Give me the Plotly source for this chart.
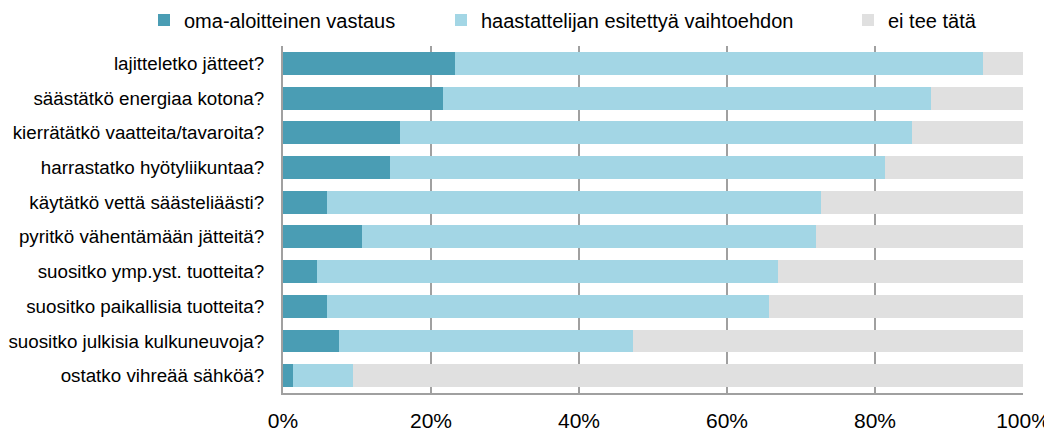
import plotly.graph_objects as go

categories = [
    "lajitteletko jätteet?",
    "säästätkö energiaa kotona?",
    "kierrätätkö vaatteita/tavaroita?",
    "harrastatko hyötyliikuntaa?",
    "käytätkö vettä säästeliäästi?",
    "pyritkö vähentämään jätteitä?",
    "suositko ymp.yst. tuotteita?",
    "suositko paikallisia tuotteita?",
    "suositko julkisia kulkuneuvoja?",
    "ostatko vihreää sähköä?",
]
oma = [23.3, 21.6, 15.8, 14.5, 5.9, 10.7, 4.6, 5.9, 7.5, 1.4]
haastattelija = [71.3, 65.9, 69.2, 66.9, 66.8, 61.3, 62.3, 59.8, 39.8, 8.0]
ei_tee = [5.4, 12.5, 15.0, 18.6, 27.3, 28.0, 33.1, 34.3, 52.7, 90.6]
tick_vals = [0, 20, 40, 60, 80, 100]
tick_text = ["0%", "20%", "40%", "60%", "80%", "100%"]

series = [
    ("oma-aloitteinen vastaus", oma, "#4A9DB4", "legend"),
    ("haastattelijan esitettyä vaihtoehdon", haastattelija, "#A3D6E5", "legend2"),
    ("ei tee tätä", ei_tee, "#E0E0E0", "legend3"),
]

fig = go.Figure()
for name, vals, col, lg in series:
    fig.add_trace(go.Bar(
        y=categories, x=vals, name=name, orientation="h",
        marker=dict(color=col, line=dict(width=0)), legend=lg,
        showlegend=True,
    ))

W, H = 1044, 423  # page body adds 8px offset


def leg(xpx):
    return dict(
        orientation="h", xref="container", yref="container",
        x=(xpx - 8) / W, y=1 - 12 / H, xanchor="left", yanchor="middle",
        font=dict(size=20), itemwidth=30, bgcolor="rgba(0,0,0,0)",
        visible=True,
    )


fig.update_layout(
    barmode="stack",
    bargap=0.34,
    width=W, height=H,
    showlegend=True,
    margin=dict(l=275, r=29, t=38, b=38, autoexpand=False),
    paper_bgcolor="white", plot_bgcolor="white",
    font=dict(family="Liberation Sans, Arial, sans-serif", color="#000000"),
    legend=leg(184 - 40),
    legend2=leg(481 - 40),
    legend3=leg(888 - 40),
    xaxis=dict(
        range=[0, 100], tickmode="array", tickvals=tick_vals, ticktext=tick_text,
        showgrid=True, gridcolor="#A0A0A0", gridwidth=2,
        zeroline=False, showline=True, linecolor="#A0A0A0", linewidth=2,
        tickfont=dict(size=21), ticklabelstandoff=8, automargin=False,
    ),
    yaxis=dict(
        autorange="reversed", showline=True, linecolor="#A0A0A0", linewidth=2,
        showgrid=False, tickfont=dict(size=18.8), ticklabelstandoff=13,
        automargin=False,
    ),
)

fig.write_html("out.html")
